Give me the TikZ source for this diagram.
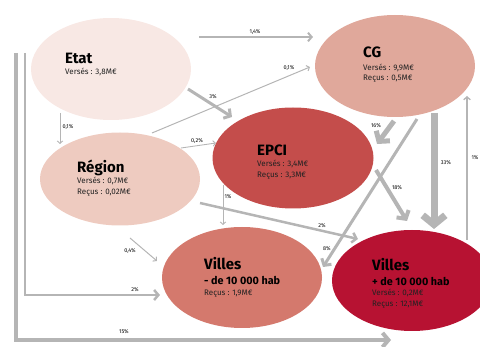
\documentclass[tikz,border=0pt]{standalone}
\usepackage{fontspec}
\setmainfont{Fira Sans}
\usetikzlibrary{shapes.geometric,arrows.meta}
\definecolor{cEtat}{HTML}{F8E8E4}
\definecolor{cReg}{HTML}{EECBC0}
\definecolor{cCG}{HTML}{E0A89B}
\definecolor{cEPCI}{HTML}{C44D4B}
\definecolor{cVm}{HTML}{D4796D}
\definecolor{cVp}{HTML}{B71232}
\definecolor{cArr}{HTML}{B5B5B5}
\definecolor{cTxt}{HTML}{222222}
\tikzset{
  blob/.style={ellipse, inner sep=0pt, draw=none},
  ttl/.style={anchor=base west, inner sep=0pt, font=\fontsize{15}{15}\selectfont\bfseries},
  sub/.style={anchor=base west, inner sep=0pt, font=\fontsize{10.8}{11}\selectfont\bfseries},
  info/.style={anchor=base west, inner sep=0pt, text=cTxt, font=\fontsize{8}{8}\selectfont},
  pct/.style={inner sep=0pt, font=\fontsize{5.5}{5.5}\selectfont},
  flow/.style={draw=cArr, line width=#1, -{Straight Barb[length=1.5pt 1.1, width=3pt 2.8]}},
  flow/.default=1pt
}
\begin{document}
\begin{tikzpicture}[x=1pt,y=-1pt]
\useasboundingbox (0,0) rectangle (480,347);
\clip (0,0) rectangle (480,347);
% ellipses
\node[blob, fill=cEtat, minimum width=160, minimum height=102] (etat) at (111,69) {};
\node[blob, fill=cCG, minimum width=160, minimum height=102] (cg) at (395,66) {};
\node[blob, fill=cReg, minimum width=160, minimum height=93] (reg) at (120,179) {};
\node[blob, fill=cEPCI, minimum width=161, minimum height=101] (epci) at (293,158) {};
\node[blob, fill=cVm, minimum width=160, minimum height=101] (vm) at (242,277.5) {};
\node[blob, fill=cVp, minimum width=160, minimum height=101] (vp) at (412,280.5) {};
% texts
\node[ttl] (t1) at (65,64) {Etat};
\node[info] (t1a) at (65,75) {Versés : 3,8M€};
\node[ttl] (t2) at (363,58) {CG};
\node[info] (t2a) at (363,71) {Versés : 9,9M€};
\node[info] (t2b) at (363,81) {Reçus : 0,5M€};
\node[ttl] (t3) at (77,173) {Région};
\node[info] (t3a) at (77,184) {Versés : 0,7M€};
\node[info] (t3b) at (77,195) {Reçus : 0,02M€};
\node[ttl] (t4) at (257,156) {EPCI};
\node[info] (t4a) at (257,167) {Versés : 3,4M€};
\node[info] (t4b) at (257,178) {Reçus : 3,3M€};
\node[ttl] (t5) at (204,270) {Villes};
\node[sub] (t5a) at (204,285) {- de 10 000 hab};
\node[info] (t5b) at (204,296) {Reçus : 1,9M€};
\node[ttl] (t6) at (372,271) {Villes};
\node[sub] (t6a) at (372,286) {+ de 10 000 hab};
\node[info] (t6b) at (372,296) {Versés : 0,2M€};
\node[info] (t6c) at (372,307) {Reçus : 12,1M€};
% connector end points
\coordinate (a1s) at (199,37); \coordinate (a1e) at (313,37);
\coordinate (a2s) at (188,89); \coordinate (a2e) at (232,117);
\coordinate (a3s) at (152,133); \coordinate (a3e) at (310,67);
\coordinate (a4s) at (60,113); \coordinate (a4e) at (60,144);
\coordinate (a5s) at (181,148); \coordinate (a5e) at (216,143);
\coordinate (a6s) at (223,185); \coordinate (a6e) at (223,225);
\coordinate (a7s) at (200,203); \coordinate (a7e) at (358,239);
\coordinate (a8s) at (130,238); \coordinate (a8e) at (157,261);
\coordinate (a9s) at (394,121); \coordinate (a9e) at (377,144);
\coordinate (a10s) at (417,119); \coordinate (a10e) at (323,267);
\coordinate (a11s) at (376,170); \coordinate (a11e) at (407,221);
\coordinate (a12s) at (434,113); \coordinate (a12e) at (434,229);
\coordinate (a13s) at (467,240); \coordinate (a13e) at (467,96);
\coordinate (a14s) at (25,53); \coordinate (a14c) at (25,295); \coordinate (a14e) at (160,295);
\coordinate (a15s) at (16,53); \coordinate (a15c) at (16,340); \coordinate (a15e) at (391,340);
% connectors
\draw[flow=2pt] (a1s) -- (a1e);
\draw[flow=3pt] (a2s) -- (a2e);
\draw[flow=1pt] (a3s) -- (a3e);
\draw[flow=0.9pt] (a4s) -- (a4e);
\draw[flow=0.9pt] (a5s) -- (a5e);
\draw[flow=0.9pt] (a6s) -- (a6e);
\draw[flow=2.5pt] (a7s) -- (a7e);
\draw[flow=1pt] (a8s) -- (a8e);
\draw[flow=5pt] (a9s) -- (a9e);
\draw[flow=3pt] (a10s) -- (a10e);
\draw[flow=4pt] (a11s) -- (a11e);
\draw[flow=7pt] (a12s) -- (a12e);
\draw[flow=1.3pt] (a13s) -- (a13e);
\draw[flow=2.5pt] (a14s) -- (a14c) -- (a14e);
\draw[flow=4pt] (a15s) -- (a15c) -- (a15e);
% labels
\node[pct] (l1) at (255,32) {1,4\%};
\node[pct] (l2) at (213,97) {3\%};
\node[pct] (l3) at (289,68) {0,1\%};
\node[pct] (l4) at (68,127) {0,1\%};
\node[pct] (l5) at (197,141) {0,2\%};
\node[pct] (l6) at (228,197) {1\%};
\node[pct] (l7) at (322,226) {2\%};
\node[pct] (l8) at (130,251) {0,4\%};
\node[pct] (l9) at (376,126) {16\%};
\node[pct] (l10) at (327,249) {8\%};
\node[pct] (l11) at (397,188) {18\%};
\node[pct] (l12) at (446,163) {33\%};
\node[pct] (l13) at (475,158) {1\%};
\node[pct] (l14) at (135,290) {2\%};
\node[pct] (l15) at (124,332) {15\%};
\end{tikzpicture}
\end{document}
